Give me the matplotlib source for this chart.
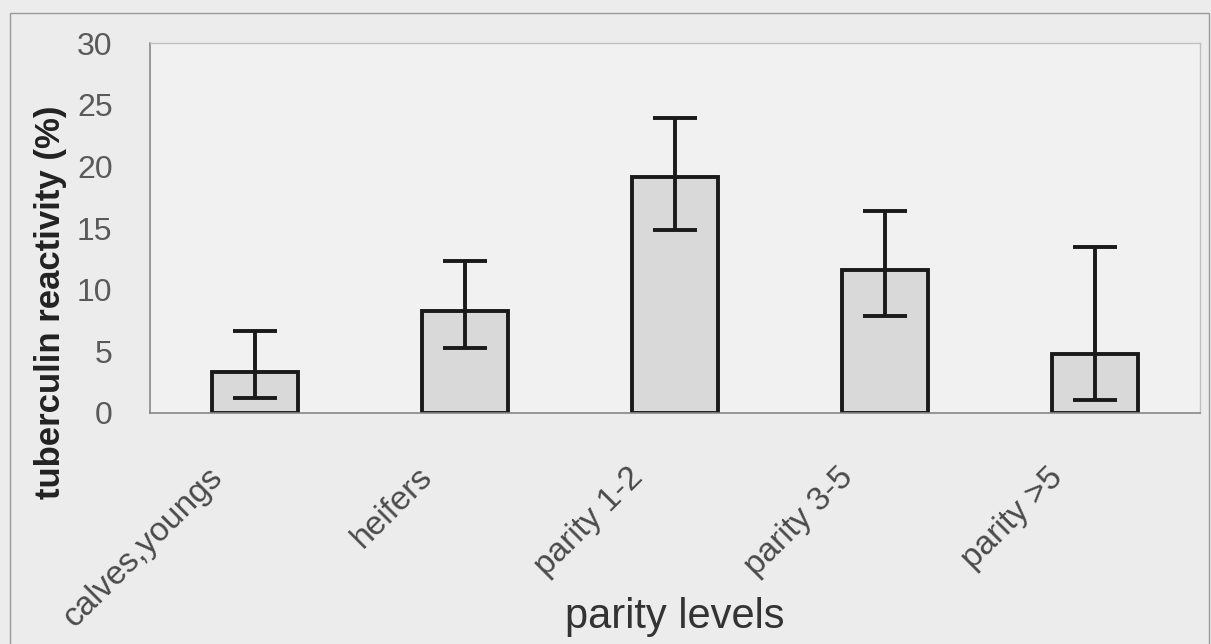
import matplotlib
matplotlib.use('Agg')
import matplotlib.pyplot as plt
import matplotlib.transforms as mtransforms
import numpy as np
from matplotlib.patches import Rectangle

categories = ['calves,youngs', 'heifers', 'parity 1-2', 'parity 3-5', 'parity >5']
reactivity = [3.3, 8.3, 19.1, 11.6, 4.8]
err_low = [1.2, 5.3, 14.8, 7.9, 1.05]
err_high = [6.65, 12.3, 23.9, 16.4, 13.5]

plt.rcParams['font.family'] = ['Liberation Sans', 'DejaVu Sans']

fig = plt.figure(figsize=(12.11, 6.44), dpi=100, facecolor='#ececec')
ax = fig.add_axes([0.1239, 0.3587, 0.867, 0.5745])
ax.set_facecolor('#f1f1f1')

x = np.arange(len(categories))
vals = np.array(reactivity)
yerr = [vals - np.array(err_low), np.array(err_high) - vals]
ax.bar(x, vals, 0.41, color='#d9d9d9', edgecolor='#1a1a1a', linewidth=2.8, zorder=2)
ax.errorbar(x, vals, yerr=yerr, fmt='none', ecolor='#1a1a1a', elinewidth=2.8,
            capsize=16, capthick=2.8, zorder=3)

ax.set_xlim(-0.5, 4.5)
ax.set_ylim(0, 30)
ax.set_yticks(range(0, 31, 5))
ax.tick_params(axis='y', length=0, pad=27, labelsize=23, labelcolor='#5a5a5a')
ax.tick_params(axis='x', length=0, pad=35, labelsize=24, labelcolor='#4a4a4a')
ax.set_xticks(x)
ax.set_xticklabels(categories, rotation=45, ha='right', va='top', rotation_mode='anchor')
shift = mtransforms.ScaledTranslation(-0.48, 0, fig.dpi_scale_trans)
for lbl in ax.get_xticklabels():
    lbl.set_transform(lbl.get_transform() + shift)

for s in ['top', 'right']:
    ax.spines[s].set_color('#c0c0c0')
    ax.spines[s].set_linewidth(1)
for s in ['left', 'bottom']:
    ax.spines[s].set_color('#888888')
    ax.spines[s].set_linewidth(1.2)

fig.text(0.042, 0.531, 'tuberculin reactivity (%)', rotation=90, ha='center', va='center',
         fontsize=25, fontweight='bold', color='#222222')
fig.text(0.557, 0.042, 'parity levels', ha='center', va='center', fontsize=30,
         color='#333333')

fig.patches.append(Rectangle((0.008, -0.01), 0.99, 0.99, transform=fig.transFigure,
                             fill=False, edgecolor='#9a9a9a', linewidth=1))

plt.savefig('out.png', dpi=100, facecolor=fig.get_facecolor())
